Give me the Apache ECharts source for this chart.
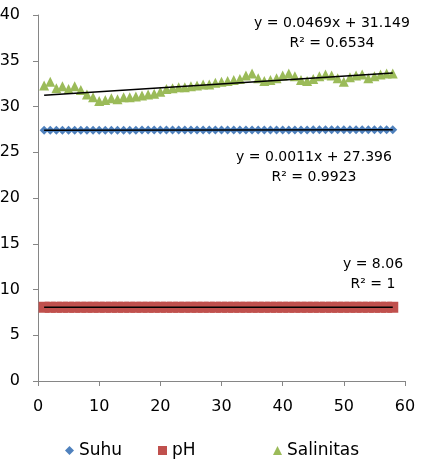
<!DOCTYPE html>
<html>
<head>
<meta charset="utf-8">
<script src="https://cdn.jsdelivr.net/npm/echarts@6/dist/echarts.min.js"></script>
<style>
  html, body { margin: 0; padding: 0; background: #fff; }
  #chart { width: 423px; height: 465px; }
</style>
</head>
<body>
<div id="chart"></div>
<script>
// hari pengamatan 1..58
var days = [];
for (var d = 1; d <= 58; d++) days.push(d);

var suhu = [27.40, 27.40, 27.40, 27.40, 27.40, 27.40, 27.40, 27.40, 27.41, 27.41,
            27.41, 27.41, 27.41, 27.41, 27.41, 27.41, 27.42, 27.42, 27.42, 27.42,
            27.42, 27.42, 27.42, 27.42, 27.42, 27.43, 27.43, 27.43, 27.43, 27.43,
            27.43, 27.43, 27.43, 27.43, 27.44, 27.44, 27.44, 27.44, 27.44, 27.44,
            27.44, 27.44, 27.44, 27.44, 27.45, 27.45, 27.45, 27.45, 27.45, 27.45,
            27.45, 27.45, 27.45, 27.46, 27.46, 27.46, 27.46, 27.46];

var ph = [8.06, 8.06, 8.06, 8.06, 8.06, 8.06, 8.06, 8.06, 8.06, 8.06,
          8.06, 8.06, 8.06, 8.06, 8.06, 8.06, 8.06, 8.06, 8.06, 8.06,
          8.06, 8.06, 8.06, 8.06, 8.06, 8.06, 8.06, 8.06, 8.06, 8.06,
          8.06, 8.06, 8.06, 8.06, 8.06, 8.06, 8.06, 8.06, 8.06, 8.06,
          8.06, 8.06, 8.06, 8.06, 8.06, 8.06, 8.06, 8.06, 8.06, 8.06,
          8.06, 8.06, 8.06, 8.06, 8.06, 8.06, 8.06, 8.06];

var salinitas = [32.3, 32.7, 32.0, 32.2, 31.9, 32.2, 31.8, 31.3, 31.0, 30.6,
                 30.7, 30.9, 30.8, 31.0, 31.0, 31.1, 31.2, 31.3, 31.4, 31.6,
                 31.9, 32.0, 32.1, 32.1, 32.2, 32.3, 32.4, 32.4, 32.6, 32.7,
                 32.8, 32.9, 33.0, 33.4, 33.6, 33.1, 32.8, 32.9, 33.1, 33.4,
                 33.6, 33.3, 32.9, 32.8, 33.0, 33.3, 33.5, 33.4, 33.1, 32.7,
                 33.2, 33.4, 33.5, 33.1, 33.3, 33.5, 33.6, 33.6];

var xTicks = [0, 10, 20, 30, 40, 50, 60];
var yTicks = [0, 5, 10, 15, 20, 25, 30, 35, 40];
var seriesNames = ['Suhu', 'pH', 'Salinitas'];

var trendText = {
    salinitas: ['y = 0.0469x + 31.149', 'R² = 0.6534'],
    suhu: ['y = 0.0011x + 27.396', 'R² = 0.9923'],
    ph: ['y = 8.06', 'R² = 1']
};

function pairs(ys) {
    return days.map(function (x, i) { return [x, ys[i]]; });
}

// garis tren linear (kuadrat terkecil)
function trend(ys) {
    var n = days.length, sx = 0, sy = 0, sxy = 0, sxx = 0;
    for (var i = 0; i < n; i++) {
        sx += days[i]; sy += ys[i];
        sxy += days[i] * ys[i]; sxx += days[i] * days[i];
    }
    var b = (n * sxy - sx * sy) / (n * sxx - sx * sx);
    var a = (sy - b * sx) / n;
    var x0 = days[0], x1 = days[n - 1];
    return [[x0, a + b * x0], [x1, a + b * x1]];
}

function trendSeries(ys) {
    return {
        type: 'line',
        data: trend(ys),
        symbol: 'none',
        silent: true,
        z: 5,
        lineStyle: { color: '#000', width: 1.5 }
    };
}

var font = 'DejaVu Sans';

function label(lines, cx, y) {
    return {
        type: 'text',
        x: cx,
        y: y,
        style: {
            text: lines.join('\n'),
            fontFamily: font,
            fontSize: 14,
            lineHeight: 20,
            fill: '#000',
            align: 'center'
        }
    };
}

// tiap entri legenda diletakkan sendiri, seperti kolom legenda Excel
function legendAt(name, left) {
    return {
        data: [name],
        top: 442,
        left: left,
        padding: 0,
        itemWidth: 9,
        itemHeight: 9,
        textStyle: { color: '#000', fontFamily: font, fontSize: 17 }
    };
}

var chart = echarts.init(document.getElementById('chart'));
chart.setOption({
    animation: false,
    grid: { left: 38, right: 18, top: 15, bottom: 84, outerBoundsMode: 'none' },
    xAxis: {
        type: 'value',
        min: xTicks[0],
        max: xTicks[xTicks.length - 1],
        interval: 10,
        splitLine: { show: false },
        axisLine: { lineStyle: { color: '#868686' } },
        axisTick: { show: true, length: 5, lineStyle: { color: '#868686' } },
        axisLabel: { color: '#000', fontFamily: font, fontSize: 16, margin: 18 }
    },
    yAxis: {
        type: 'value',
        min: yTicks[0],
        max: yTicks[yTicks.length - 1],
        interval: 5,
        splitLine: { show: false },
        axisLine: { show: true, lineStyle: { color: '#868686' } },
        axisTick: { show: true, length: 5, lineStyle: { color: '#868686' } },
        axisLabel: { color: '#000', fontFamily: font, fontSize: 16, margin: 18 }
    },
    legend: [
        legendAt(seriesNames[0], 65),
        legendAt(seriesNames[1], 158),
        legendAt(seriesNames[2], 273)
    ],
    series: [
        {
            name: seriesNames[0],
            type: 'scatter',
            data: pairs(suhu),
            symbol: 'diamond',
            symbolSize: 9,
            itemStyle: { color: '#4F81BD', opacity: 1 }
        },
        {
            name: seriesNames[1],
            type: 'scatter',
            data: pairs(ph),
            symbol: 'rect',
            symbolSize: 11,
            itemStyle: { color: '#C0504D', opacity: 1 }
        },
        {
            name: seriesNames[2],
            type: 'scatter',
            data: pairs(salinitas),
            symbol: 'triangle',
            symbolSize: 10,
            itemStyle: { color: '#9BBB59', opacity: 1 }
        },
        trendSeries(suhu),
        trendSeries(ph),
        trendSeries(salinitas)
    ],
    graphic: [
        label(trendText.salinitas, 332, 13),
        label(trendText.suhu, 314, 147),
        label(trendText.ph, 373, 254)
    ]
});
</script>
</body>
</html>
